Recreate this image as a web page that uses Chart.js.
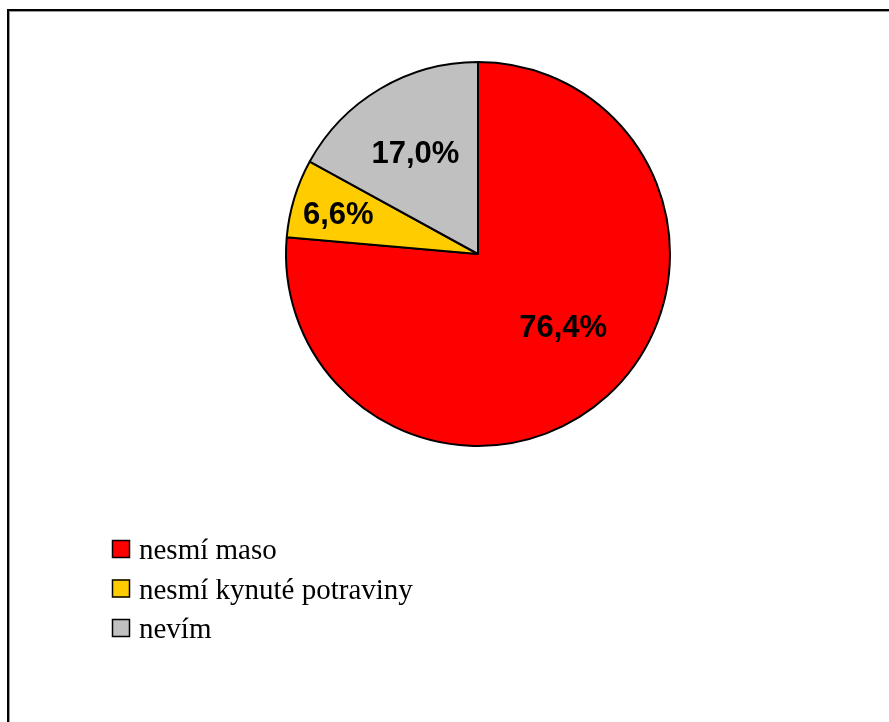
<!DOCTYPE html>
<html>
<head>
<meta charset="utf-8">
<script src="https://cdn.jsdelivr.net/npm/chart.js@4/dist/chart.umd.min.js"></script>
<style>
  html, body { margin: 0; padding: 0; background: #fff; }
  #wrap { width: 889px; height: 722px; position: relative; }
</style>
</head>
<body>
<div id="wrap"><canvas id="c" width="889" height="722"></canvas></div>
<script>
// ---- data ----
const categories = ["nesmí maso", "nesmí kynuté potraviny", "nevím"];
const values = [76.4, 6.6, 17.0];
const sliceColors = ["#FF0000", "#FFCC00", "#C0C0C0"];

// ---- style for labels (radial fraction + small pixel nudges) ----
const labelRadial = [0.58, 0.75, 0.62];
const labelNudge = [[10, -8], [-2, 3], [-2, 3]];

function fmt(v) { return v.toFixed(1).replace('.', ',') + '%'; }

const framePlugin = {
  id: 'frame',
  beforeDraw(chart) {
    const ctx = chart.ctx;
    ctx.save();
    ctx.fillStyle = '#fff';
    ctx.fillRect(0, 0, chart.width, chart.height);
    ctx.fillStyle = '#000';
    ctx.fillRect(7, 9, 2, chart.height);
    ctx.fillRect(7, 9, chart.width, 2);
    ctx.fillStyle = '#999';
    ctx.fillRect(9, 11, 1, chart.height);
    ctx.fillRect(9, 11, chart.width, 1);
    ctx.restore();
  }
};

const labelPlugin = {
  id: 'sliceLabels',
  afterDatasetsDraw(chart) {
    const ctx = chart.ctx;
    const meta = chart.getDatasetMeta(0);
    ctx.save();
    ctx.font = 'bold 31px "Liberation Sans", Arial, sans-serif';
    ctx.fillStyle = '#000';
    ctx.textAlign = 'center';
    ctx.textBaseline = 'middle';
    meta.data.forEach((arc, i) => {
      const p = arc.getProps(['x', 'y', 'startAngle', 'endAngle', 'outerRadius'], true);
      const mid = (p.startAngle + p.endAngle) / 2;
      const r = p.outerRadius * labelRadial[i];
      const x = p.x + Math.cos(mid) * r + labelNudge[i][0];
      const y = p.y + Math.sin(mid) * r + labelNudge[i][1];
      ctx.fillText(fmt(chart.data.datasets[0].data[i]), x, y);
    });
    ctx.restore();
  }
};

const legendPlugin = {
  id: 'customLegend',
  afterDraw(chart) {
    const ctx = chart.ctx;
    ctx.save();
    ctx.font = '29px "Liberation Serif", "Times New Roman", serif';
    ctx.textBaseline = 'alphabetic';
    ctx.textAlign = 'left';
    chart.data.labels.forEach((lab, i) => {
      const y0 = 540 + i * 39.5;
      ctx.fillStyle = chart.data.datasets[0].backgroundColor[i];
      ctx.fillRect(112, y0, 18, 18);
      ctx.strokeStyle = '#000';
      ctx.lineWidth = 1.5;
      ctx.strokeRect(112.5, y0 + 0.5, 17, 17);
      ctx.fillStyle = '#000';
      ctx.fillText(lab, 139, y0 + 19);
    });
    ctx.restore();
  }
};

new Chart(document.getElementById('c'), {
  type: 'pie',
  data: {
    labels: categories,
    datasets: [{
      data: values,
      backgroundColor: sliceColors,
      borderColor: '#000',
      borderWidth: 2
    }]
  },
  options: {
    responsive: false,
    animation: false,
    layout: { padding: { left: 285, right: 218, top: 61, bottom: 275 } },
    plugins: {
      legend: { display: false },
      tooltip: { enabled: false }
    }
  },
  plugins: [framePlugin, labelPlugin, legendPlugin]
});
</script>
</body>
</html>
